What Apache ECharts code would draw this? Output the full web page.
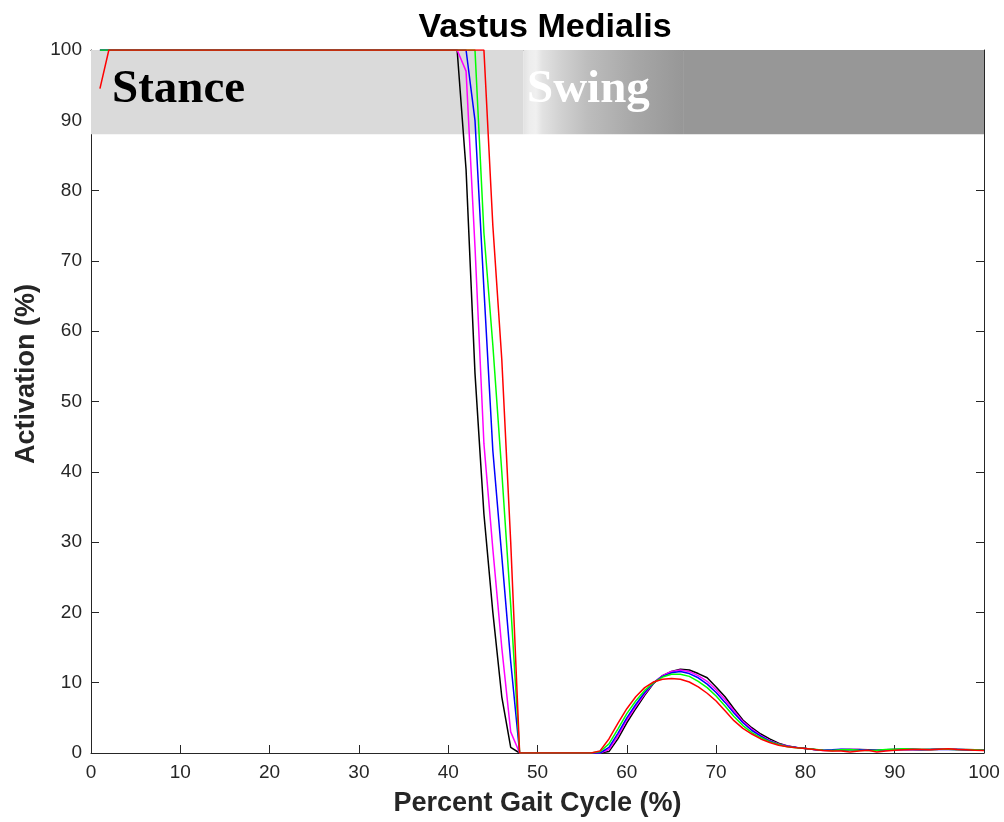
<!DOCTYPE html>
<html>
<head>
<meta charset="utf-8">
<script src="https://cdn.jsdelivr.net/npm/echarts@6/dist/echarts.min.js"></script>
<style>
html,body{margin:0;padding:0;background:#fff;}
#chart{width:1004px;height:822px;}
</style>
</head>
<body>
<div id="chart"></div>
<script>
// ---- data ----
const gaitX = [1, 2, 40,
  41, 42, 43, 44, 45, 46, 47, 48,
  56, 57, 58, 59, 60, 61, 62, 63, 64, 65, 66, 67, 68, 69, 70, 71, 72, 73, 74, 75, 76, 77, 78, 79, 80,
  81, 82, 83, 84, 85, 86, 87, 88, 89, 90, 91, 92, 93, 94, 95, 96, 97, 98, 99, 100];

const blackY = [100, 100, 100,
  100, 83, 54, 34, 20, 8, 0.8, 0,
  0, 0, 0.2, 2.0, 4.3, 6.3, 8.2, 9.9, 11.0, 11.6, 11.9, 11.8, 11.3, 10.7, 9.4, 8.0, 6.3, 4.7, 3.6, 2.7, 2.0, 1.4, 1.0, 0.8, 0.65,
  0.5, 0.4, 0.35, 0.4, 0.45, 0.5, 0.45, 0.4, 0.45, 0.5, 0.5, 0.55, 0.5, 0.5, 0.55, 0.55, 0.5, 0.45, 0.45, 0.4];

const magentaY = [100, 100, 100,
  100, 97, 72, 44, 29, 15, 3, 0,
  0, 0, 0.5, 2.4, 4.7, 6.6, 8.4, 10.0, 11.0, 11.6, 11.8, 11.6, 11.0, 10.2, 9.0, 7.6, 6.0, 4.5, 3.4, 2.5, 1.8, 1.3, 1.0, 0.8, 0.65,
  0.5, 0.35, 0.4, 0.5, 0.55, 0.5, 0.4, 0.35, 0.4, 0.45, 0.5, 0.5, 0.45, 0.5, 0.6, 0.6, 0.55, 0.5, 0.45, 0.4];

const blueY = [100, 100, 100,
  100, 100, 90, 66, 43, 28, 13, 0,
  0, 0, 0.8, 2.8, 5.0, 6.9, 8.6, 10.0, 10.9, 11.4, 11.6, 11.3, 10.7, 9.8, 8.6, 7.2, 5.7, 4.3, 3.2, 2.4, 1.7, 1.2, 0.95, 0.8, 0.65,
  0.5, 0.4, 0.45, 0.55, 0.5, 0.45, 0.4, 0.4, 0.45, 0.5, 0.55, 0.5, 0.45, 0.5, 0.55, 0.5, 0.5, 0.45, 0.4, 0.4];

const greenY = [100, 100, 100,
  100, 100, 100, 74, 58, 40, 21, 0,
  0, 0.2, 1.3, 3.4, 5.6, 7.4, 8.9, 10.0, 10.8, 11.2, 11.2, 10.9, 10.2, 9.3, 8.1, 6.7, 5.2, 3.9, 2.9, 2.2, 1.6, 1.2, 0.9, 0.75, 0.65,
  0.55, 0.4, 0.35, 0.45, 0.5, 0.4, 0.35, 0.4, 0.5, 0.55, 0.6, 0.55, 0.5, 0.5, 0.55, 0.55, 0.5, 0.5, 0.45, 0.4];

const redY = [94.5, 100, 100,
  100, 100, 100, 100, 75, 56, 30, 0,
  0, 0.3, 2.0, 4.2, 6.3, 8.0, 9.3, 10.1, 10.5, 10.6, 10.5, 10.1, 9.4, 8.5, 7.4, 6.0, 4.6, 3.5, 2.7, 2.0, 1.5, 1.1, 0.9, 0.75, 0.65,
  0.5, 0.35, 0.3, 0.3, 0.15, 0.3, 0.4, 0.15, 0.3, 0.4, 0.45, 0.5, 0.5, 0.45, 0.55, 0.6, 0.5, 0.45, 0.4, 0.35];

const seriesNames = ['black', 'magenta', 'blue', 'green', 'red'];
const seriesColors = ['#000000', '#ff00ff', '#0000ff', '#00ff00', '#ff0000'];
const seriesValues = [blackY, magentaY, blueY, greenY, redY];

// phase band (x range in % gait, y range in % activation)
const stanceBand = [0, 48.4];
const swingFade = [48.4, 66.3];
const swingBand = [66.3, 100];
const bandY = [88, 100];

const xTicks = [0, 10, 20, 30, 40, 50, 60, 70, 80, 90, 100];
const yTicks = [0, 10, 20, 30, 40, 50, 60, 70, 80, 90, 100];

// ---- chart ----
const chart = echarts.init(document.getElementById('chart'), null, {renderer: 'canvas'});
const axisCol = '#262626';
const tickFont = 'Liberation Sans, Arial, sans-serif';

function pair(xs, ys) { return xs.map((x, i) => [x, ys[i]]); }

const lineSeries = seriesNames.map((n, i) => ({
  name: n,
  type: 'line',
  data: pair(gaitX, seriesValues[i]),
  showSymbol: false,
  symbol: 'none',
  lineStyle: {color: seriesColors[i], width: 1.5},
  itemStyle: {color: seriesColors[i]},
  z: 3 + i,
  animation: false,
  silent: true
}));

const fadeGradient = {
  type: 'linear', x: 0, y: 0, x2: 1, y2: 0,
  colorStops: [
    {offset: 0, color: '#e2e2e2'},
    {offset: 0.04, color: '#ededed'},
    {offset: 0.08, color: '#f0f0f0'},
    {offset: 0.12, color: '#e2e2e2'},
    {offset: 0.25, color: '#cfcfcf'},
    {offset: 0.4, color: '#bdbdbd'},
    {offset: 0.7, color: '#a7a7a7'},
    {offset: 1, color: '#979797'}
  ]
};

const bandSeries = {
  name: 'band',
  type: 'line',
  data: [],
  z: 1,
  silent: true,
  animation: false,
  markArea: {
    silent: true,
    animation: false,
    data: [
      [{xAxis: stanceBand[0], yAxis: bandY[0], itemStyle: {color: '#dadada'}}, {xAxis: stanceBand[1], yAxis: bandY[1]}],
      [{xAxis: swingFade[0], yAxis: bandY[0], itemStyle: {color: fadeGradient}}, {xAxis: swingFade[1], yAxis: bandY[1]}],
      [{xAxis: swingBand[0], yAxis: bandY[0], itemStyle: {color: '#979797'}}, {xAxis: swingBand[1], yAxis: bandY[1]}]
    ]
  }
};

const baseAxis = {
  type: 'value', min: 0, max: 100, interval: 10,
  axisLine: {show: true, onZero: false, lineStyle: {color: axisCol, width: 1}},
  axisTick: {show: true, inside: true, length: 8, lineStyle: {color: axisCol, width: 1}},
  splitLine: {show: false}
};

const option = {
  backgroundColor: '#ffffff',
  animation: false,
  title: {
    text: 'Vastus Medialis',
    left: 540, top: 6, textAlign: 'center',
    textStyle: {fontFamily: 'Liberation Sans, Arial, sans-serif', fontWeight: 'bold', fontSize: 34, color: '#000'}
  },
  grid: {left: 91, right: 20, top: 50, bottom: 69, containLabel: false},
  xAxis: [
    Object.assign({}, baseAxis, {
      position: 'bottom',
      name: 'Percent Gait Cycle (%)', nameLocation: 'middle', nameGap: 37,
      nameTextStyle: {fontFamily: tickFont, fontWeight: 'bold', fontSize: 27, color: axisCol},
      axisLabel: {show: true, margin: 10, fontFamily: tickFont, fontSize: 19, color: axisCol,
        formatter: v => (xTicks.indexOf(v) >= 0 ? String(v) : '')}
    }),
    Object.assign({}, baseAxis, {position: 'top', axisLabel: {show: false}})
  ],
  yAxis: [
    Object.assign({}, baseAxis, {
      position: 'left',
      axisLabel: {show: true, margin: 9, fontFamily: tickFont, fontSize: 19, color: axisCol,
        formatter: v => (yTicks.indexOf(v) >= 0 ? String(v) : '')}
    }),
    Object.assign({}, baseAxis, {position: 'right', axisLabel: {show: false}})
  ],
  graphic: [
    {type: 'text', x: 27, y: 374, rotation: Math.PI / 2, z: 100, silent: true,
      style: {text: 'Activation (%)', fill: axisCol, font: 'bold 27px "Liberation Sans", Arial, sans-serif', verticalAlign: 'middle', align: 'center'}},
    {type: 'text', x: 112, y: 90, z: 100, silent: true,
      style: {text: 'Stance', fill: '#000', font: 'bold 47px "Liberation Serif", "Times New Roman", serif', verticalAlign: 'middle', align: 'left'}},
    {type: 'text', x: 527, y: 90, z: 100, silent: true,
      style: {text: 'Swing', fill: '#ffffff', font: 'bold 47px "Liberation Serif", "Times New Roman", serif', verticalAlign: 'middle', align: 'left'}}
  ],
  series: [bandSeries].concat(lineSeries)
};

chart.setOption(option);
</script>
</body>
</html>
